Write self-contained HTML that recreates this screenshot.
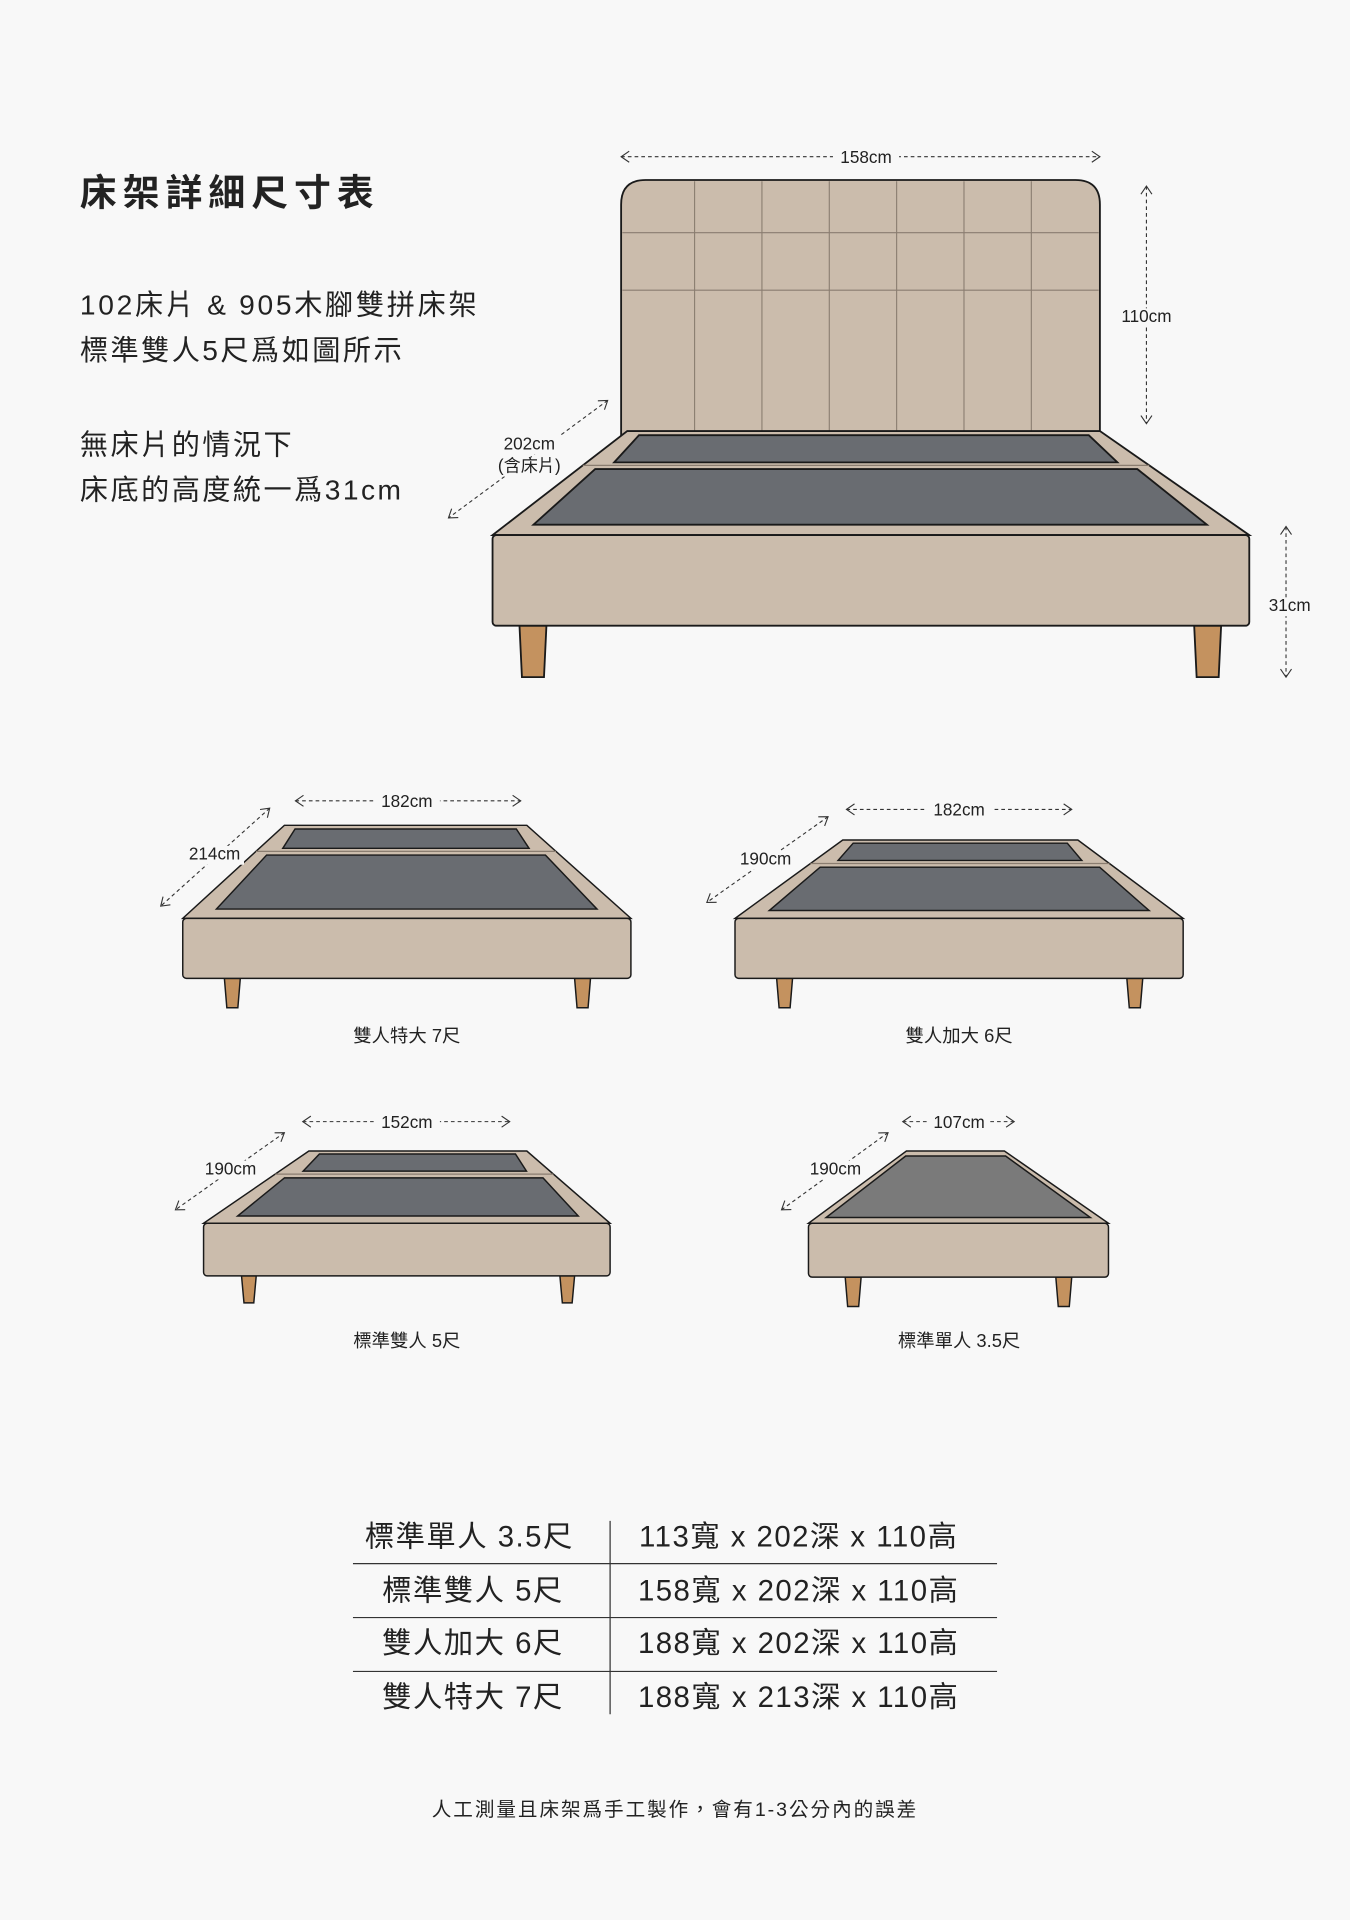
<!DOCTYPE html>
<html><head><meta charset="utf-8"><style>
html,body{margin:0;padding:0;background:#f8f8f8;}
svg{display:block;}
text{font-family:"Liberation Sans","Noto Sans CJK TC",sans-serif;fill:#222;}
</style></head><body>
<svg id="s" width="1350" height="1920" viewBox="0 0 1102 1568" xmlns="http://www.w3.org/2000/svg">
<rect width="1102" height="1568" fill="#f8f8f8"/>
<text x="65" y="168" font-size="30" font-weight="bold" letter-spacing="5">床架詳細尺寸表</text>
<text x="65" y="257" font-size="23" letter-spacing="2.2">102床片 &amp; 905木腳雙拼床架</text>
<text x="65" y="294" font-size="23" letter-spacing="2">標準雙人5尺爲如圖所示</text>
<text x="65" y="371" font-size="23" letter-spacing="2">無床片的情況下</text>
<text x="65" y="408" font-size="23" letter-spacing="2">床底的高度統一爲31cm</text>
<g id="g"></g>
<g font-size="24" text-anchor="middle" letter-spacing="1.2">
<text x="383" y="1263">標準單人 3.5尺</text><text x="652" y="1263">113寬 x 202深 x 110高</text>
<text x="386" y="1307">標準雙人 5尺</text><text x="652" y="1307">158寬 x 202深 x 110高</text>
<text x="386" y="1350">雙人加大 6尺</text><text x="652" y="1350">188寬 x 202深 x 110高</text>
<text x="386" y="1394">雙人特大 7尺</text><text x="652" y="1394">188寬 x 213深 x 110高</text>
</g>
<g stroke="#333" stroke-width="1">
<line x1="498" y1="1242" x2="498" y2="1400"/>
<line x1="288" y1="1277" x2="814" y2="1277"/>
<line x1="288" y1="1321" x2="814" y2="1321"/>
<line x1="288" y1="1365" x2="814" y2="1365"/>
</g>
<text x="551" y="1483" font-size="16" text-anchor="middle" letter-spacing="1.6">人工測量且床架爲手工製作，會有1-3公分內的誤差</text>
</svg>
<script>
var out='';
var BE='#cbbcac',SL='#696c71',LG='#c4925f',ST='#1a1a1a';
function P(pts){return pts.map(function(p){return p[0].toFixed(1)+','+p[1].toFixed(1)}).join(' ');}
function bed(o){
 var yt=o.yt,yb=o.yb;
 function L(y){return o.xt0+(o.x0-o.xt0)*(y-yt)/(yb-yt);}
 function R(y){return o.xt1+(o.x1-o.xt1)*(y-yt)/(yb-yt);}
 var sw=o.sw||1.2;
 [[o.l1],[o.l2]].forEach(function(l){var x=l[0],w=o.lw;
  out+='<polygon points="'+P([[x,o.ybb],[x+w,o.ybb],[x+w-2,o.lb],[x+2,o.lb]])+'" fill="'+LG+'" stroke="'+ST+'" stroke-width="'+sw+'"/>';});
 out+='<polygon points="'+P([[o.xt0,yt],[o.xt1,yt],[o.x1,yb],[o.x0,yb]])+'" fill="'+BE+'" stroke="'+ST+'" stroke-width="'+sw+'"/>';
 out+='<rect x="'+o.x0+'" y="'+yb+'" width="'+(o.x1-o.x0)+'" height="'+(o.ybb-yb)+'" rx="3" fill="'+BE+'" stroke="'+ST+'" stroke-width="'+sw+'"/>';
 var d=yb-yt,ins=o.ins;
 function slat(a,b){var ya=yt+a,yb2=yt+b;
  out+='<polygon points="'+P([[L(ya)+ins,ya],[R(ya)-ins,ya],[R(yb2)-ins*1.6,yb2],[L(yb2)+ins*1.6,yb2]])+'" fill="'+(o.one?'#7a7a7a':SL)+'" stroke="'+ST+'" stroke-width="'+sw+'"/>';}
 if(o.one){slat(d*0.07,d*0.92);}
 else{var yd=yt+d*o.f;
  out+='<line x1="'+L(yd)+'" y1="'+yd+'" x2="'+R(yd)+'" y2="'+yd+'" stroke="#8a7d70" stroke-width="1"/>';
  slat(d*0.04,d*o.f-2.5);slat(d*o.f+3,d*0.9);}
}
function arrow(x1,y1,x2,y2){
 out+='<line x1="'+x1+'" y1="'+y1+'" x2="'+x2+'" y2="'+y2+'" stroke="#333" stroke-width="0.9" stroke-dasharray="3,2.5"/>';
 [[x1,y1,x2,y2],[x2,y2,x1,y1]].forEach(function(a){var ang=Math.atan2(a[1]-a[3],a[0]-a[2]);var s=8;
  var p1=[a[0]+s*Math.cos(ang+Math.PI-0.6),a[1]+s*Math.sin(ang+Math.PI-0.6)],p2=[a[0]+s*Math.cos(ang+Math.PI+0.6),a[1]+s*Math.sin(ang+Math.PI+0.6)];
  out+='<polyline points="'+P([p1,[a[0],a[1]],p2])+'" fill="none" stroke="#333" stroke-width="0.9"/>';});
}
function lab(x,y,t,fs,bg,w){if(bg)out+='<rect x="'+(x-w/2)+'" y="'+(y-fs*0.8)+'" width="'+w+'" height="'+fs*1.1+'" fill="#f8f8f8"/>';
 out+='<text x="'+x+'" y="'+y+'" font-size="'+fs+'" text-anchor="middle">'+t+'</text>';}

out+='<path d="M507,355 L507,167 Q507,147 527,147 L878,147 Q898,147 898,167 L898,355 Z" fill="'+BE+'" stroke="'+ST+'" stroke-width="1.5"/>';
[567,622,677,732,787,842].forEach(function(x){out+='<line x1="'+x+'" y1="148" x2="'+x+'" y2="352" stroke="#8a7d70" stroke-width="0.9"/>';});
[190,237].forEach(function(y){out+='<line x1="508" y1="'+y+'" x2="897" y2="'+y+'" stroke="#8a7d70" stroke-width="0.9"/>';});
bed({xt0:512,xt1:898,yt:352,x0:402,x1:1020,yb:437,ybb:511,l1:424,l2:975,lw:22,lb:553,ins:14,f:0.33,sw:1.5});
arrow(507,128,898,128);lab(707,133,'158cm',14,true,54);
arrow(936,152,936,346);lab(936,263,'110cm',14,true,48);
arrow(1050,430,1050,553);lab(1053,499,'31cm',14,true,42);
arrow(496,327,366,423);lab(432,367,'202cm',14,true,50);lab(432,385,'(含床片)',14,true,58);

bed({xt0:232,xt1:430,yt:674,x0:149,x1:515,yb:750,ybb:799,l1:183,l2:469,lw:13,lb:823,ins:12,f:0.28});
arrow(241,654,425,654);lab(332,659,'182cm',14,true,54);
arrow(220,660,131,740);lab(175,702,'214cm',14,true,48);
lab(332,851,'雙人特大 7尺',15,false);

bed({xt0:688,xt1:880,yt:686,x0:600,x1:966,yb:750,ybb:799,l1:634,l2:920,lw:13,lb:823,ins:12,f:0.3});
arrow(691,661,875,661);lab(783,666,'182cm',14,true,54);
arrow(676,667,577,737);lab(625,706,'190cm',14,true,48);
lab(783,851,'雙人加大 6尺',15,false);

bed({xt0:252,xt1:430,yt:940,x0:166,x1:498,yb:999,ybb:1042,l1:197,l2:457,lw:12,lb:1064,ins:12,f:0.32});
arrow(247,916,416,916);lab(332,921,'152cm',14,true,54);
arrow(232,925,143,988);lab(188,959,'190cm',14,true,48);
lab(332,1100,'標準雙人 5尺',15,false);

bed({xt0:740,xt1:820,yt:940,x0:660,x1:905,yb:999,ybb:1043,l1:690,l2:862,lw:13,lb:1067,ins:5,one:true});
arrow(737,916,828,916);lab(783,921,'107cm',14,true,50);
arrow(725,925,638,988);lab(682,959,'190cm',14,true,48);
lab(783,1100,'標準單人 3.5尺',15,false);

document.getElementById('g').innerHTML=out;
</script>
</body></html>
